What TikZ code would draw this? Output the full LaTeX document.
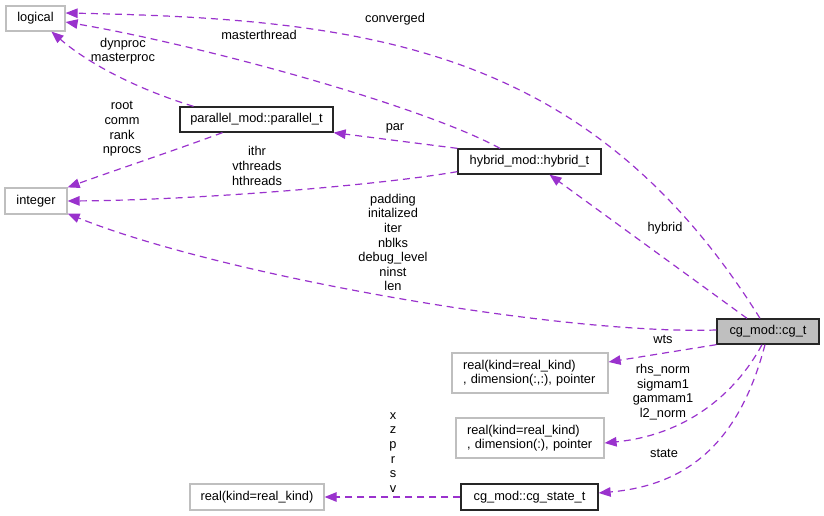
\documentclass[tikz,border=0pt]{standalone}
\usepackage{fontspec}
\setmainfont{Liberation Sans}
\usetikzlibrary{arrows.meta}
\definecolor{edgec}{HTML}{9A32CD}
\definecolor{grayb}{HTML}{BFBFBF}
\begin{document}
\begin{tikzpicture}[x=1pt,y=-1pt,
  every node/.style={font=\fontsize{12.8}{14.6}\selectfont, inner sep=0pt},
  cls/.style={draw=black!85, line width=1.3pt, align=center},
  ext/.style={draw=grayb, line width=1.2pt, align=center},
  extl/.style={draw=grayb, line width=1.2pt, align=left, inner xsep=11pt},
  rel/.style={draw=edgec, dash pattern=on 7pt off 5pt, line width=1.2pt,
    -{Triangle[length=12pt,width=9.5pt]}},
  lbl/.style={align=center, text=black}]
\useasboundingbox (0,0) rectangle (824,516);
% nodes
\node[ext, minimum width=59pt, minimum height=25pt] (logical) at (35.5,18.5) {logical};
\node[ext, minimum width=62pt, minimum height=26pt] (integer) at (36,201) {integer};
\node[cls, minimum width=153pt, minimum height=25pt] (parallel) at (256.5,119.5) {parallel\_mod::parallel\_t};
\node[cls, minimum width=143pt, minimum height=25pt] (hybrid) at (529.5,161.5) {hybrid\_mod::hybrid\_t};
\node[cls, fill=grayb, minimum width=102pt, minimum height=25pt] (cgt) at (768,331.5) {cg\_mod::cg\_t};
\node[extl, text width=134pt, minimum height=40pt] (realtwo) at (530,373) {real(kind=real\_kind)\\, dimension(:,:), pointer};
\node[extl, text width=126pt, minimum height=40pt] (realone) at (530,438) {real(kind=real\_kind)\\, dimension(:), pointer};
\node[cls, minimum width=137pt, minimum height=26pt] (cgstate) at (529.5,497) {cg\_mod::cg\_state\_t};
\node[ext, minimum width=134pt, minimum height=26pt] (real) at (257,497) {real(kind=real\_kind)};
% edges
\draw[rel] ([xshift=-8pt]cgt.north) .. controls (590,46) and (366,19) .. ([yshift=5.5pt]logical.east);
\draw[rel] ([xshift=-29.5pt]hybrid.north) .. controls (420,105) and (200,45) .. ([yshift=-3.5pt]logical.east);
\draw[rel] ([xshift=-63pt]parallel.north) .. controls (140,90) and (90,65) .. ([xshift=16pt]logical.south);
\draw[rel] ([xshift=-34pt]parallel.south) .. controls (170,152) and (110,172) .. (integer.north east);
\draw[rel] (hybrid.north west) -- (parallel.south east);
\draw[rel] ([yshift=3pt]hybrid.south west) .. controls (380,185) and (200,200) .. (integer.east);
\draw[rel] ([yshift=1.5pt]cgt.west) .. controls (560,335) and (220,275) .. ([yshift=1pt]integer.south east);
\draw[rel] ([xshift=-21pt]cgt.north) -- ([xshift=20pt]hybrid.south);
\draw[rel] (cgt.south west) -- ([yshift=11pt]realtwo.east);
\draw[rel] ([xshift=-6pt]cgt.south) .. controls (735,395) and (685,435) .. ([yshift=-5pt]realone.east);
\draw[rel] ([xshift=-3pt]cgt.south) .. controls (740,440) and (690,485) .. ([yshift=4pt]cgstate.east);
\draw[rel] (cgstate.west) -- (real.east);
% labels
\node[lbl] (lconv) at (395,19) {converged};
\node[lbl] (lmaster) at (259,35) {masterthread};
\node[lbl] (ldyn) at (123,51) {dynproc\\masterproc};
\node[lbl] (lroot) at (122,129) {root\\comm\\rank\\nprocs};
\node[lbl] (lpar) at (395,128) {par};
\node[lbl] (lithr) at (257,166) {ithr\\vthreads\\hthreads};
\node[lbl] (lpad) at (393,242.5) {padding\\initalized\\iter\\nblks\\debug\_level\\ninst\\len};
\node[lbl] (lhyb) at (665,228) {hybrid};
\node[lbl] (lwts) at (663,339) {wts};
\node[lbl] (lrhs) at (663,392) {rhs\_norm\\sigmam1\\gammam1\\l2\_norm};
\node[lbl] (lstate) at (664,453) {state};
\node[lbl] (lxz) at (393,452.5) {x\\z\\p\\r\\s\\v};
\end{tikzpicture}
\end{document}
